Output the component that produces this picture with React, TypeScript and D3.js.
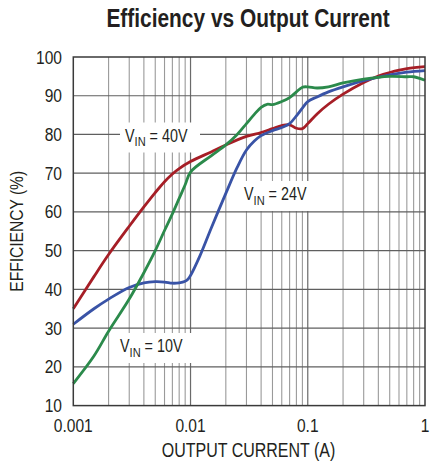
import React from "react";
import * as d3 from "d3";

const xMajorTicks = [0.001, 0.01, 0.1, 1];
const xTickLabels = ["0.001", "0.01", "0.1", "1"];
const yTicks = [10, 20, 30, 40, 50, 60, 70, 80, 90, 100];

// V_IN = 40V (red)
const current40 = [0.001, 0.0015, 0.002, 0.003, 0.004, 0.005, 0.006, 0.007, 0.008, 0.01, 0.015, 0.02, 0.03, 0.04, 0.05, 0.06, 0.07, 0.08, 0.09, 0.1, 0.12, 0.15, 0.2, 0.3, 0.4, 0.5, 0.7, 1];
const eff40 = [35, 43.3, 49, 56.3, 61.3, 65, 67.8, 69.8, 71.2, 73, 75.5, 77.3, 79.5, 80.5, 81.5, 82.3, 82.5, 81.6, 81.5, 82.8, 85.3, 87.8, 90.4, 93.4, 95.1, 96, 97, 97.5];

// V_IN = 24V (blue)
const current24 = [0.001, 0.0015, 0.002, 0.003, 0.004, 0.005, 0.006, 0.007, 0.008, 0.009, 0.0095, 0.01, 0.012, 0.015, 0.02, 0.025, 0.03, 0.035, 0.04, 0.05, 0.06, 0.07, 0.08, 0.09, 0.1, 0.12, 0.15, 0.2, 0.3, 0.5, 0.7, 1];
const eff24 = [31, 35, 37.5, 40.5, 41.7, 42, 41.9, 41.6, 41.7, 42.1, 42.6, 43.6, 48.6, 55.8, 64.8, 71.5, 76, 78.3, 79.7, 81, 81.8, 82.8, 84.8, 86.8, 88.5, 89.7, 91, 92.3, 93.9, 95.4, 96.1, 96.5];

// V_IN = 10V (green)
const current10 = [0.001, 0.0015, 0.002, 0.003, 0.004, 0.005, 0.006, 0.007, 0.008, 0.009, 0.01, 0.015, 0.02, 0.025, 0.03, 0.035, 0.04, 0.045, 0.05, 0.06, 0.07, 0.08, 0.09, 0.1, 0.12, 0.15, 0.2, 0.3, 0.5, 0.7, 0.8, 0.9, 1];
const eff10 = [15.7, 22.8, 29.2, 37.5, 44.3, 50, 55.2, 59.5, 63.5, 67, 70.3, 74.5, 77.3, 80, 82.8, 85.2, 87, 87.8, 87.7, 88.5, 89.5, 91, 92.2, 92.3, 92, 92.3, 93.3, 94.3, 95, 94.9, 94.9, 94.5, 94];

const seriesNames = ["40V", "24V", "10V"];
const seriesColors = ["#a61e26", "#3953a6", "#2b8a4b"];

const W = 430;
const H = 466;
const left = 73.3;
const right = 425;
const top = 57;
const bottom = 405.6;

const FONT = "'Liberation Sans', Arial, sans-serif";
const SX = 0.82;

function NText({
  x,
  y,
  size,
  anchor = "start",
  weight = "normal",
  rotate = 0,
  children,
}: {
  x: number;
  y: number;
  size: number;
  anchor?: string;
  weight?: string;
  rotate?: number;
  children: React.ReactNode;
}) {
  return (
    <text
      transform={`translate(${x},${y}) rotate(${rotate}) scale(${SX},1)`}
      textAnchor={anchor as any}
      fontFamily={FONT}
      fontWeight={weight}
      fontSize={size}
      fill="#231f20"
    >
      {children}
    </text>
  );
}

function Label({ x, y, text, boxW }: { x: number; y: number; text: string; boxW: number }) {
  return (
    <g>
      <rect x={x - 5} y={y - 19} width={boxW} height={30} fill="#fff" />
      <NText x={x} y={y} size={17.5}>
        V<tspan fontSize={13.5} dy={4.5}>IN</tspan>
        <tspan dy={-4.5}>{" = " + text}</tspan>
      </NText>
    </g>
  );
}

export default function App() {
  const x = d3.scaleLog().domain([0.001, 1]).range([left, right]);
  const y = d3.scaleLinear().domain([10, 100]).range([bottom, top]);

  const minor: number[] = [];
  [0.001, 0.01, 0.1].forEach((d) => {
    for (let k = 2; k <= 9; k++) minor.push(d * k);
  });

  const line = d3
    .line<[number, number]>()
    .x((d) => x(d[0]))
    .y((d) => y(d[1]))
    .curve(d3.curveCatmullRom.alpha(0.5));

  const series = [
    { cur: current40, eff: eff40 },
    { cur: current24, eff: eff24 },
    { cur: current10, eff: eff10 },
  ];

  return (
    <svg width={W} height={H} style={{ position: "absolute", left: 0, top: 0, background: "#fff" }}>
      <rect x={0} y={0} width={W} height={H} fill="#fff" />
      <NText x={248} y={27} anchor="middle" weight="bold" size={25.5}>
        Efficiency vs Output Current
      </NText>

      {/* grid */}
      {minor.map((v, i) => (
        <line key={"mn" + i} x1={x(v)} x2={x(v)} y1={top} y2={bottom} stroke="#9a9a9a" strokeWidth={1.1} />
      ))}
      {xMajorTicks.slice(1, 3).map((v, i) => (
        <line key={"mj" + i} x1={x(v)} x2={x(v)} y1={top} y2={bottom} stroke="#6a6a6a" strokeWidth={1.2} />
      ))}
      {yTicks.slice(1, -1).map((v, i) => (
        <line key={"hy" + i} x1={left} x2={right} y1={y(v)} y2={y(v)} stroke="#5f5f5f" strokeWidth={1.2} />
      ))}

      {/* label boxes */}
      <Label x={125} y={141.5} text="40V" boxW={80} />
      <Label x={244} y={200} text="24V" boxW={78} />
      <Label x={120} y={352} text="10V" boxW={78} />

      {/* curves */}
      {series.map((s, i) => (
        <path
          key={seriesNames[i]}
          d={line(s.cur.map((c, j) => [c, s.eff[j]] as [number, number])) || ""}
          fill="none"
          stroke={seriesColors[i]}
          strokeWidth={2.8}
          strokeLinejoin="round"
        />
      ))}

      {/* frame */}
      <rect x={left} y={top} width={right - left} height={bottom - top} fill="none" stroke="#3a3a3a" strokeWidth={1.5} />

      {/* y ticks */}
      {yTicks.map((v) => (
        <NText key={"yt" + v} x={62} y={y(v) + 6.5} anchor="end" size={19}>
          {v}
        </NText>
      ))}
      {/* x ticks */}
      {xMajorTicks.map((v, i) => (
        <NText key={"xt" + v} x={x(v)} y={431.5} anchor="middle" size={19}>
          {xTickLabels[i]}
        </NText>
      ))}

      <NText x={248.5} y={456.5} anchor="middle" size={19.5}>
        OUTPUT CURRENT (A)
      </NText>
      <NText x={23} y={(top + bottom) / 2} anchor="middle" size={19} rotate={-90}>
        EFFICIENCY (%)
      </NText>
    </svg>
  );
}
